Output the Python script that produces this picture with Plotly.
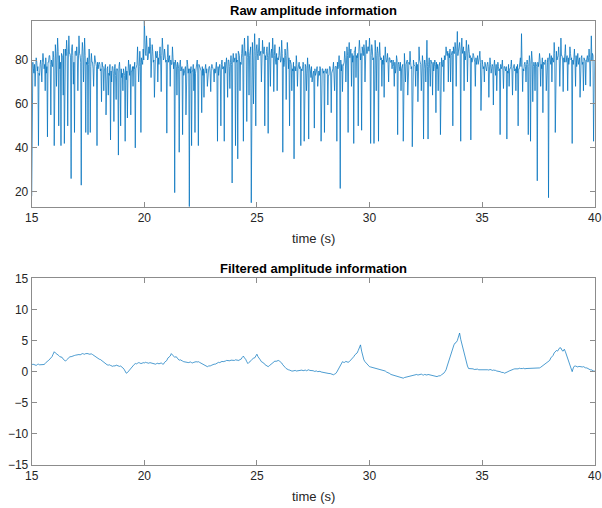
import plotly.graph_objects as go

# ---------------- data ----------------
T_START, T_END = 15.0, 40.0
RAW_DT = 0.05      # spacing of raw_base samples
FILT_DT = 0.1      # spacing of filtered samples

# raw amplitude: band samples every 0.05 s (one row per second)
raw_base = [
    76,79,74,78,81,75,77,73,80,78, 83,76,85,74,88,79,82,86,77,84,   # 15
    80,87,78,90,82,76,88,81,92,79, 85,89,77,91,83,80,87,78,92,84,   # 16
    86,79,91,82,77,88,80,90,83,78, 81,85,77,83,79,76,82,78,80,76,   # 17
    79,75,81,77,74,78,72,76,79,73, 75,70,77,74,78,72,76,73,79,74,   # 18
    72,77,74,79,71,76,80,73,77,75, 80,76,83,78,86,79,84,88,80,85,   # 19
    88,83,91,80,86,90,82,87,79,89, 84,81,88,78,86,83,90,80,85,79,   # 20
    84,87,80,83,78,86,76,81,79,77, 78,74,80,76,79,73,77,75,80,74,   # 21
    77,74,79,75,73,78,76,80,74,77, 75,79,73,78,76,74,80,75,77,73,   # 22
    78,75,77,74,79,76,73,78,75,80, 76,79,74,81,77,80,76,82,78,83,   # 23
    80,86,79,89,83,92,78,87,81,90, 84,79,91,82,86,80,88,84,92,81,   # 24
    87,80,90,84,78,89,83,91,80,86, 82,88,79,85,90,81,87,78,84,80,   # 25
    86,79,89,82,77,85,80,88,76,83, 78,81,75,79,77,82,74,78,76,80,   # 26
    75,79,73,78,76,81,74,77,72,76, 74,78,73,76,71,75,77,73,76,74,   # 27
    72,76,74,78,73,77,71,75,79,74, 77,80,76,82,78,75,81,79,84,80,   # 28
    86,80,88,83,91,79,87,84,90,81, 85,89,80,92,84,87,81,89,83,86,   # 29
    90,82,87,80,85,89,81,86,83,88, 80,84,78,82,86,79,83,77,81,79,   # 30
    76,80,78,74,82,77,79,75,81,78, 76,83,77,80,75,79,84,76,78,80,   # 31
    77,81,75,79,86,78,76,82,74,80, 78,89,77,81,76,79,83,75,80,78,   # 32
    76,82,79,75,81,77,84,80,86,82, 89,81,87,84,91,83,88,80,93,85,   # 33
    88,82,90,84,86,80,89,83,87,81, 85,79,83,80,86,78,82,79,84,77,   # 34
    80,76,82,78,75,79,77,81,74,78, 76,80,73,77,79,75,78,76,80,74,   # 35
    77,75,79,74,78,76,80,73,77,75, 78,74,79,76,81,92,77,75,79,76,   # 36
    80,77,82,78,84,76,79,90,78,81, 77,83,79,76,82,78,80,85,79,81,   # 37
    83,78,85,80,88,79,84,81,86,78, 90,82,85,79,87,81,84,78,86,80,   # 38
    82,78,85,80,77,83,79,86,81,78, 84,80,88,82,79,85,80,91,83,79,   # 39
    80,
]

# raw amplitude samples lying halfway between raw_base samples (band core)
raw_mid = [
    77,76,78,75,79,77,74,78,76,79, 80,78,81,77,79,82,78,80,77,81,   # 15
    81,83,80,84,82,79,83,81,85,80, 82,84,80,83,81,85,82,79,84,82,   # 16
    82,80,83,79,81,84,80,82,79,81, 78,80,77,79,76,78,80,77,79,78,   # 17
    78,76,79,77,75,78,76,77,74,78, 75,77,74,76,73,76,75,77,74,76,   # 18
    74,76,73,77,75,74,76,78,75,77, 77,79,76,78,80,77,79,81,78,80,   # 19
    84,82,85,81,83,86,82,84,80,83, 82,84,81,83,80,82,85,81,83,80,   # 20
    81,79,82,80,78,81,79,80,77,79, 76,78,75,77,76,74,77,75,78,76,   # 21
    76,77,75,78,76,74,77,75,78,76, 75,77,76,74,78,76,75,77,74,76,   # 22
    77,75,76,78,74,77,76,75,78,76, 77,79,78,76,80,77,79,78,80,79,   # 23
    81,83,80,84,82,79,83,81,85,82, 83,81,84,82,86,83,80,84,82,85,   # 24
    83,85,82,84,81,83,86,82,84,81, 82,80,83,81,84,82,80,83,81,82,   # 25
    82,80,83,81,79,82,80,84,81,80, 78,76,79,77,75,78,76,79,77,76,   # 26
    76,78,75,77,74,76,78,75,77,74, 75,76,74,77,75,73,76,74,76,75,   # 27
    75,74,76,73,77,75,74,76,75,77, 77,79,78,76,80,78,77,79,81,80,   # 28
    82,84,81,85,83,82,84,86,82,83, 84,85,83,86,82,85,84,83,86,84,   # 29
    84,82,85,81,83,84,82,83,81,82, 81,80,82,79,81,80,78,81,79,80,   # 30
    78,77,79,76,80,78,77,79,76,78, 79,77,78,80,76,78,79,77,80,78,   # 31
    77,79,78,76,80,78,77,79,76,78, 79,77,78,76,80,78,79,77,78,79,   # 32
    78,77,79,76,78,80,82,81,83,84, 83,85,82,84,86,83,85,84,82,85,   # 33
    84,85,83,86,84,82,85,83,84,82, 81,80,82,79,81,80,78,81,79,78,   # 34
    78,77,79,76,78,77,75,78,76,77, 77,76,78,75,77,76,78,77,75,77,   # 35
    76,77,75,78,76,77,75,76,78,76, 77,78,76,79,77,78,76,78,77,78,   # 36
    78,77,79,78,80,77,78,79,77,79, 79,80,78,81,79,78,80,79,81,80,   # 37
    80,82,81,79,83,81,80,82,81,83, 82,80,81,83,79,82,81,80,83,81,   # 38
    80,81,79,82,80,78,81,80,82,79, 81,80,79,82,80,81,79,80,82,80,   # 39
]

# deep isolated spikes in the raw amplitude (time s, value)
spike_t = [15.0, 15.15, 15.3, 15.7, 15.85, 16.0, 16.2, 16.3, 16.45, 16.6,
           16.75, 16.9, 17.2, 17.4, 17.5, 17.6, 17.9, 18.1, 18.3, 18.5,
           18.65, 18.85, 18.95, 19.15, 19.25, 19.4, 19.6, 19.85, 20.0, 20.45,
           20.75, 21.0, 21.35, 21.55, 21.7, 21.85, 22.0, 22.1, 22.25, 22.4,
           22.55, 22.65, 22.95, 23.25, 23.4, 23.55, 23.7, 23.9, 24.05, 24.15,
           24.4, 24.55, 24.75, 24.95, 25.35, 25.5, 25.75, 26.15, 26.45, 26.65,
           26.95, 27.1, 27.3, 27.55, 27.85, 28.0, 28.15, 28.3, 28.55, 28.7,
           28.8, 29.05, 29.3, 29.5, 29.65, 30.05, 30.2, 30.4, 30.65, 31.25,
           31.5, 31.7, 31.9, 32.15, 32.4, 32.6, 32.8, 32.95, 33.15, 33.3,
           33.5, 33.7, 34.05, 34.5, 34.95, 35.3, 35.5, 35.8, 35.95, 36.1,
           36.35, 36.6, 36.8, 37.05, 37.15, 37.25, 37.45, 37.7, 37.95, 38.25,
           38.6, 39.0, 39.35, 39.6, 39.95]
spike_v = [18, 68, 41, 45, 55, 41, 50, 41, 42, 50,
           26, 47, 23, 47, 46, 47, 41, 61, 55, 43.6,
           52, 36.7, 50, 43, 53.6, 55, 40, 47, 97.9, 63,
           65.6, 46.7, 19.6, 38, 46, 55, 13.2, 41, 47, 41,
           56, 63, 65.6, 43, 50, 43, 63, 24, 41, 35,
           43, 52, 15, 50, 50, 46.6, 65.6, 38, 50, 35,
           41, 43, 44, 49, 43, 47, 59.5, 56, 43, 21.5,
           65.6, 47, 42, 50, 48, 42, 42, 43, 63, 46,
           43, 64, 40.5, 61, 44, 44, 64, 56, 46, 65.6,
           70, 50, 43, 43.6, 57, 63, 59.5, 46, 67, 44,
           64, 50, 65.6, 46, 43, 61, 25, 56, 17.3, 47,
           65.6, 42, 63, 68.6, 43]

# shallow dips just below the band (time s, value)
dip_t = [15.45, 15.6, 16.1, 16.4, 16.85, 17.05, 17.3, 17.75, 18.2, 18.4,
         18.75, 19.05, 19.5, 19.75, 20.3, 20.6, 21.15, 21.45, 22.2, 22.8,
         23.1, 23.8, 24.25, 24.65, 24.85, 25.2, 25.6, 25.9, 26.3, 26.55,
         26.8, 27.2, 27.45, 27.7, 28.45, 28.95, 29.2, 29.4, 29.8, 30.3,
         30.55, 30.85, 31.1, 31.4, 31.6, 32.05, 32.3, 32.5, 32.7, 33.05,
         33.6, 33.85, 34.2, 34.35, 34.7, 35.1, 35.65, 36.2, 36.5, 36.95,
         37.35, 37.6, 37.85, 38.1, 38.45, 38.8, 39.15, 39.5, 39.8]
dip_v = [70, 66, 68, 64, 69, 66, 70, 68, 66, 64,
         62, 66, 68, 70, 72, 70, 68, 64, 66, 68,
         70, 67, 66, 64, 60, 70, 68, 66, 62, 66,
         68, 66, 70, 68, 66, 70, 68, 72, 70, 66,
         68, 70, 68, 66, 70, 68, 66, 70, 68, 66,
         70, 68, 66, 70, 68, 70, 66, 68, 66, 70,
         66, 68, 66, 70, 68, 66, 68, 66, 68]

# filtered amplitude, every 0.1 s (one row per second)
filtered = [
    1.05,1.15,1.0,1.2,1.1, 1.1,1.3,1.7,2.0,2.4,          # 15
    3.2,2.9,2.6,2.4,2.0, 1.7,2.1,2.4,2.5,2.6,           # 16
    2.7,2.75,2.8,2.85,2.9, 2.9,2.85,2.75,2.5,2.3,       # 17
    2.0,1.8,1.5,1.3,1.05, 1.0,0.85,0.9,1.0,0.85,        # 18
    0.8,0.4,-0.25,0.1,0.5, 0.9,1.3,1.35,1.4,1.35,       # 19
    1.4,1.45,1.35,1.4,1.3, 1.2,1.35,1.3,1.25,1.5,       # 20
    1.8,2.4,2.9,2.5,2.4, 2.0,1.9,1.7,1.6,1.5,           # 21
    1.5,1.45,1.5,1.6,1.6, 1.4,1.3,1.1,0.8,0.9,          # 22
    1.05,1.2,1.3,1.5,1.55, 1.6,1.7,1.8,1.75,1.8,        # 23
    1.8,1.85,1.8,2.0,2.5, 2.0,1.3,1.6,2.0,2.2,          # 24
    2.8,2.2,1.6,1.4,1.0, 0.8,1.1,1.4,1.7,1.75,          # 25
    1.7,1.4,0.8,0.5,0.3, 0.15,0.1,0.2,0.15,0.2,         # 26
    0.25,0.2,0.15,0.3,0.2, 0.15,0.1,0.0,0.05,-0.1,      # 27
    -0.15,-0.2,-0.3,-0.4,-0.5, -0.3,0.25,0.9,1.6,1.5,   # 28
    1.6,1.6,2.0,2.4,2.9, 3.4,4.3,2.4,1.6,1.1,           # 29
    0.8,0.7,0.6,0.5,0.4, 0.35,0.2,0.1,-0.1,-0.3,        # 30
    -0.5,-0.6,-0.7,-0.8,-0.9, -1.05,-0.9,-0.8,-0.7,-0.6, # 31
    -0.5,-0.45,-0.5,-0.4,-0.55, -0.5,-0.45,-0.6,-0.7,-0.75, # 32
    -0.8,-0.7,-0.5,-0.25,0.3, 1.5,2.9,3.9,4.6,5.0,      # 33
    6.2,4.5,2.9,1.5,0.5, 0.4,0.45,0.35,0.4,0.3,         # 34
    0.35,0.3,0.4,0.25,0.3, 0.25,0.2,0.1,0.0,-0.1,       # 35
    -0.25,-0.1,0.1,0.2,0.4, 0.5,0.45,0.5,0.5,0.45,      # 36
    0.5,0.55,0.5,0.5,0.55, 0.5,0.7,0.9,1.3,1.6,         # 37
    1.8,2.4,3.0,3.4,3.6, 3.8,3.3,3.2,2.2,1.3,           # 38
    0.0,0.9,0.8,0.85,0.7, 0.8,0.6,0.5,0.3,0.2,          # 39
    0.15,
]

# filtered amplitude samples halfway between the ones above
filtered_mid = [
    1.2,1.0,1.15,1.1,1.2, 1.15,1.55,1.8,2.3,2.8,
    3.0,2.8,2.4,2.3,1.75, 1.9,2.3,2.4,2.6,2.65,
    2.8,2.7,2.9,2.8,2.95, 2.8,2.85,2.6,2.45,2.1,
    1.95,1.6,1.45,1.1,1.1, 0.85,0.95,1.05,0.85,0.9,
    0.6,0.05,-0.15,0.35,0.65, 1.15,1.25,1.45,1.3,1.45,
    1.5,1.35,1.45,1.3,1.3, 1.3,1.25,1.4,1.2,1.7,
    2.2,2.5,2.75,2.3,2.3, 1.85,1.85,1.6,1.6,1.45,
    1.55,1.4,1.6,1.55,1.5, 1.35,1.2,0.9,0.9,0.95,
    1.15,1.2,1.45,1.45,1.65, 1.6,1.8,1.7,1.85,1.75,
    1.9,1.75,1.95,2.3,2.2, 1.6,1.5,1.8,2.2,2.5,
    2.4,1.9,1.55,1.15,0.9, 0.95,1.25,1.6,1.65,1.8,
    1.6,1.1,0.7,0.35,0.25, 0.1,0.2,0.1,0.2,0.3,
    0.15,0.25,0.2,0.2,0.25, 0.05,0.1,0.05,-0.05,-0.1,
    -0.2,-0.3,-0.3,-0.5,-0.4, -0.05,0.6,1.3,1.5,1.65,
    1.5,1.8,2.1,2.7,3.0, 3.9,3.3,1.9,1.4,0.9,
    0.75,0.6,0.6,0.4,0.4, 0.25,0.2,-0.05,-0.15,-0.45,
    -0.5,-0.7,-0.7,-0.9,-0.95, -0.95,-0.9,-0.7,-0.7,-0.5,
    -0.4,-0.55,-0.4,-0.5,-0.45, -0.55,-0.5,-0.65,-0.7,-0.8,
    -0.7,-0.65,-0.4,0.0,0.9, 2.3,3.3,4.3,4.7,5.7,
    5.2,3.5,2.4,0.9,0.5, 0.5,0.35,0.45,0.3,0.4,
    0.3,0.4,0.3,0.35,0.2, 0.25,0.1,0.1,-0.1,-0.15,
    -0.2,0.0,0.2,0.3,0.45, 0.45,0.55,0.45,0.55,0.5,
    0.55,0.5,0.55,0.5,0.5, 0.6,0.85,1.1,1.5,1.65,
    2.2,2.6,3.3,3.3,3.85, 3.4,3.6,2.7,1.8,0.6,
    0.6,0.9,0.75,0.8,0.75, 0.65,0.6,0.35,0.3,0.1,
]

x_ticks = [15, 20, 25, 30, 35, 40]
raw_y_ticks = [20, 40, 60, 80]
filt_y_ticks = [-15, -10, -5, 0, 5, 10, 15]
raw_y_range = [13.2, 97.9]
filt_y_range = [-15, 15]

# ---------------- build ----------------
base = list(raw_base)
for t, v in list(zip(spike_t, spike_v)) + list(zip(dip_t, dip_v)):
    base[int(round((t - T_START) / RAW_DT))] = v


def interleave(a, b):
    out = []
    for i in range(len(b)):
        out.append(a[i])
        out.append(b[i])
    out.extend(a[len(b):])
    return out


raw = interleave(base, raw_mid)
raw_time = [T_START + RAW_DT / 2 * i for i in range(len(raw))]
filt = interleave(filtered, filtered_mid)
filt_time = [T_START + FILT_DT / 2 * i for i in range(len(filt))]

BLUE = "#0072BD"
AXC = "#8c8c8c"
TXT = "#262626"
FONT = "Liberation Sans, Arial, Helvetica, sans-serif"

fig = go.Figure()
fig.add_trace(go.Scatter(x=raw_time, y=raw, mode="lines",
                         line=dict(color=BLUE, width=0.75),
                         xaxis="x", yaxis="y", showlegend=False))
fig.add_trace(go.Scatter(x=filt_time, y=filt, mode="lines",
                         line=dict(color=BLUE, width=0.7),
                         xaxis="x2", yaxis="y2", showlegend=False))

W, H = 602, 508
xl, xr = 31.7 / W, 594.7 / W
top1, bot1 = 1 - 20.7 / H, 1 - 206.7 / H
top2, bot2 = 1 - 278.3 / H, 1 - 465.0 / H

axis_common = dict(showline=True, linecolor=AXC, linewidth=1, mirror="ticks",
                   ticks="inside", ticklen=5, tickcolor=AXC, tickwidth=1,
                   showgrid=False, zeroline=False, automargin=False,
                   tickfont=dict(family=FONT, size=12, color=TXT))

fig.update_layout(
    width=W, height=H,
    margin=dict(l=0, r=0, t=0, b=0),
    paper_bgcolor="white", plot_bgcolor="white",
    xaxis=dict(domain=[xl, xr], anchor="y", range=[T_START, T_END],
               tickvals=x_ticks, **axis_common),
    yaxis=dict(domain=[bot1, top1], anchor="x", range=raw_y_range,
               tickvals=raw_y_ticks, **axis_common),
    xaxis2=dict(domain=[xl, xr], anchor="y2", range=[T_START, T_END],
                tickvals=x_ticks, **axis_common),
    yaxis2=dict(domain=[bot2, top2], anchor="x2", range=filt_y_range,
                tickvals=filt_y_ticks, **axis_common),
    annotations=[
        dict(text="<b>Raw amplitude information</b>", x=(xl + xr) / 2,
             y=1 - 10.5 / H, xref="paper", yref="paper", showarrow=False,
             font=dict(family=FONT, size=13, color="black"),
             xanchor="center", yanchor="middle"),
        dict(text="time (s)", x=(xl + xr) / 2, y=1 - 238 / H,
             xref="paper", yref="paper", showarrow=False,
             font=dict(family=FONT, size=13, color=TXT),
             xanchor="center", yanchor="middle"),
        dict(text="<b>Filtered amplitude information</b>", x=(xl + xr) / 2,
             y=1 - 268.5 / H, xref="paper", yref="paper", showarrow=False,
             font=dict(family=FONT, size=13, color="black"),
             xanchor="center", yanchor="middle"),
        dict(text="time (s)", x=(xl + xr) / 2, y=1 - 496.5 / H,
             xref="paper", yref="paper", showarrow=False,
             font=dict(family=FONT, size=13, color=TXT),
             xanchor="center", yanchor="middle"),
    ],
)

fig.write_html("out.html")
